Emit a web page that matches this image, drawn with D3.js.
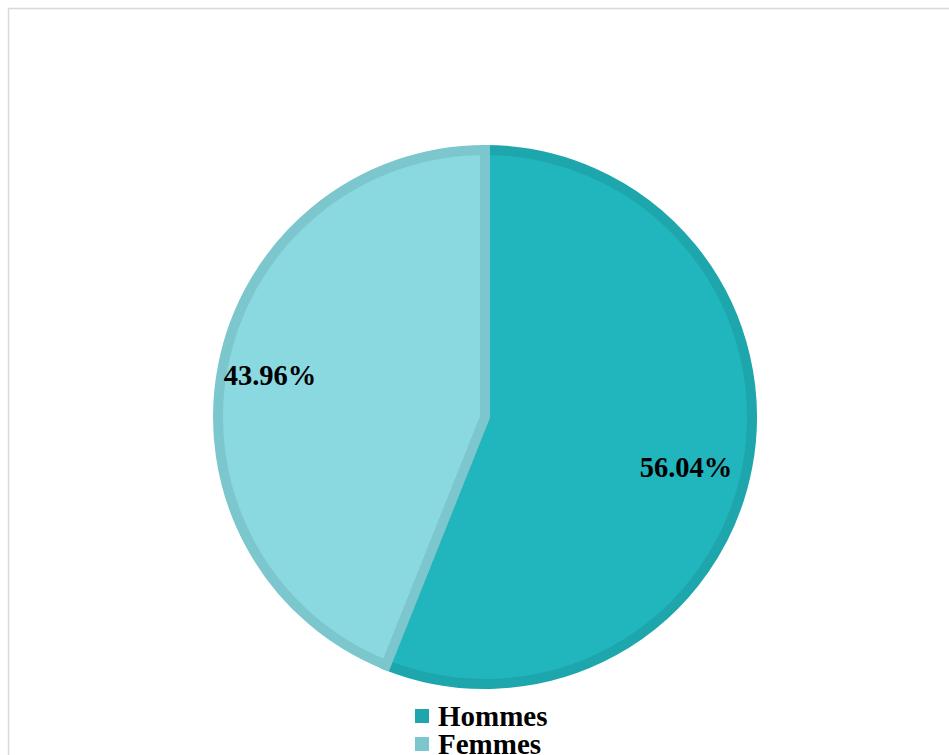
<!DOCTYPE html>
<html><head><meta charset="utf-8">
<script src="https://cdn.jsdelivr.net/npm/d3@7"></script>
<style>body{margin:0;background:#fff}svg{display:block}</style>
</head><body>
<svg id="c" width="949" height="755"></svg>
<script>
const categories = ["Hommes", "Femmes"];
const values = [56.04, 43.96];
const labels = ["56.04%", "43.96%"];
const fills = ["#21B5BD", "#8AD9E0"];
const strokes = ["#1EA6AD", "#7CC7CD"];

const svg = d3.select("#c");
// chart frame
svg.append("path").attr("d","M8.5,755 L8.5,8.5 L949,8.5").attr("fill","none").attr("stroke","#d9d9d9").attr("stroke-width",1.5);

const cx = 485, cy = 417, R = 267;
const pie = d3.pie().sort(null).value(d => d)(values);
const arc = d3.arc().innerRadius(0).outerRadius(R);
const g = svg.append("g").attr("transform", `translate(${cx},${cy})`);
g.selectAll("path").data(pie).join("path")
  .attr("d", arc).attr("fill", (d,i)=>fills[i])
  .attr("stroke", (d,i)=>strokes[i]).attr("stroke-width", 10).attr("stroke-linejoin","miter");

const labelPos = [[686, 467], [270, 375]];
svg.selectAll("text.lbl").data(labels).join("text").attr("class","lbl")
  .attr("x",(d,i)=>labelPos[i][0]).attr("y",(d,i)=>labelPos[i][1])
  .attr("text-anchor","middle").attr("dominant-baseline","central")
  .attr("font-family","'Liberation Serif','Times New Roman',serif").attr("font-weight","bold")
  .attr("font-size",28.5).attr("fill","#000").text(d=>d);

const leg = svg.append("g");
categories.forEach((c,i)=>{
  const y = 716 + i*28;
  leg.append("rect").attr("x",415).attr("y",y-7).attr("width",14).attr("height",14).attr("fill",strokes[i]);
  leg.append("text").attr("x",438).attr("y",y).attr("dominant-baseline","central")
    .attr("font-family","'Liberation Serif','Times New Roman',serif").attr("font-weight","bold")
    .attr("font-size",29).attr("fill","#000").text(c);
});
</script>
</body></html>
